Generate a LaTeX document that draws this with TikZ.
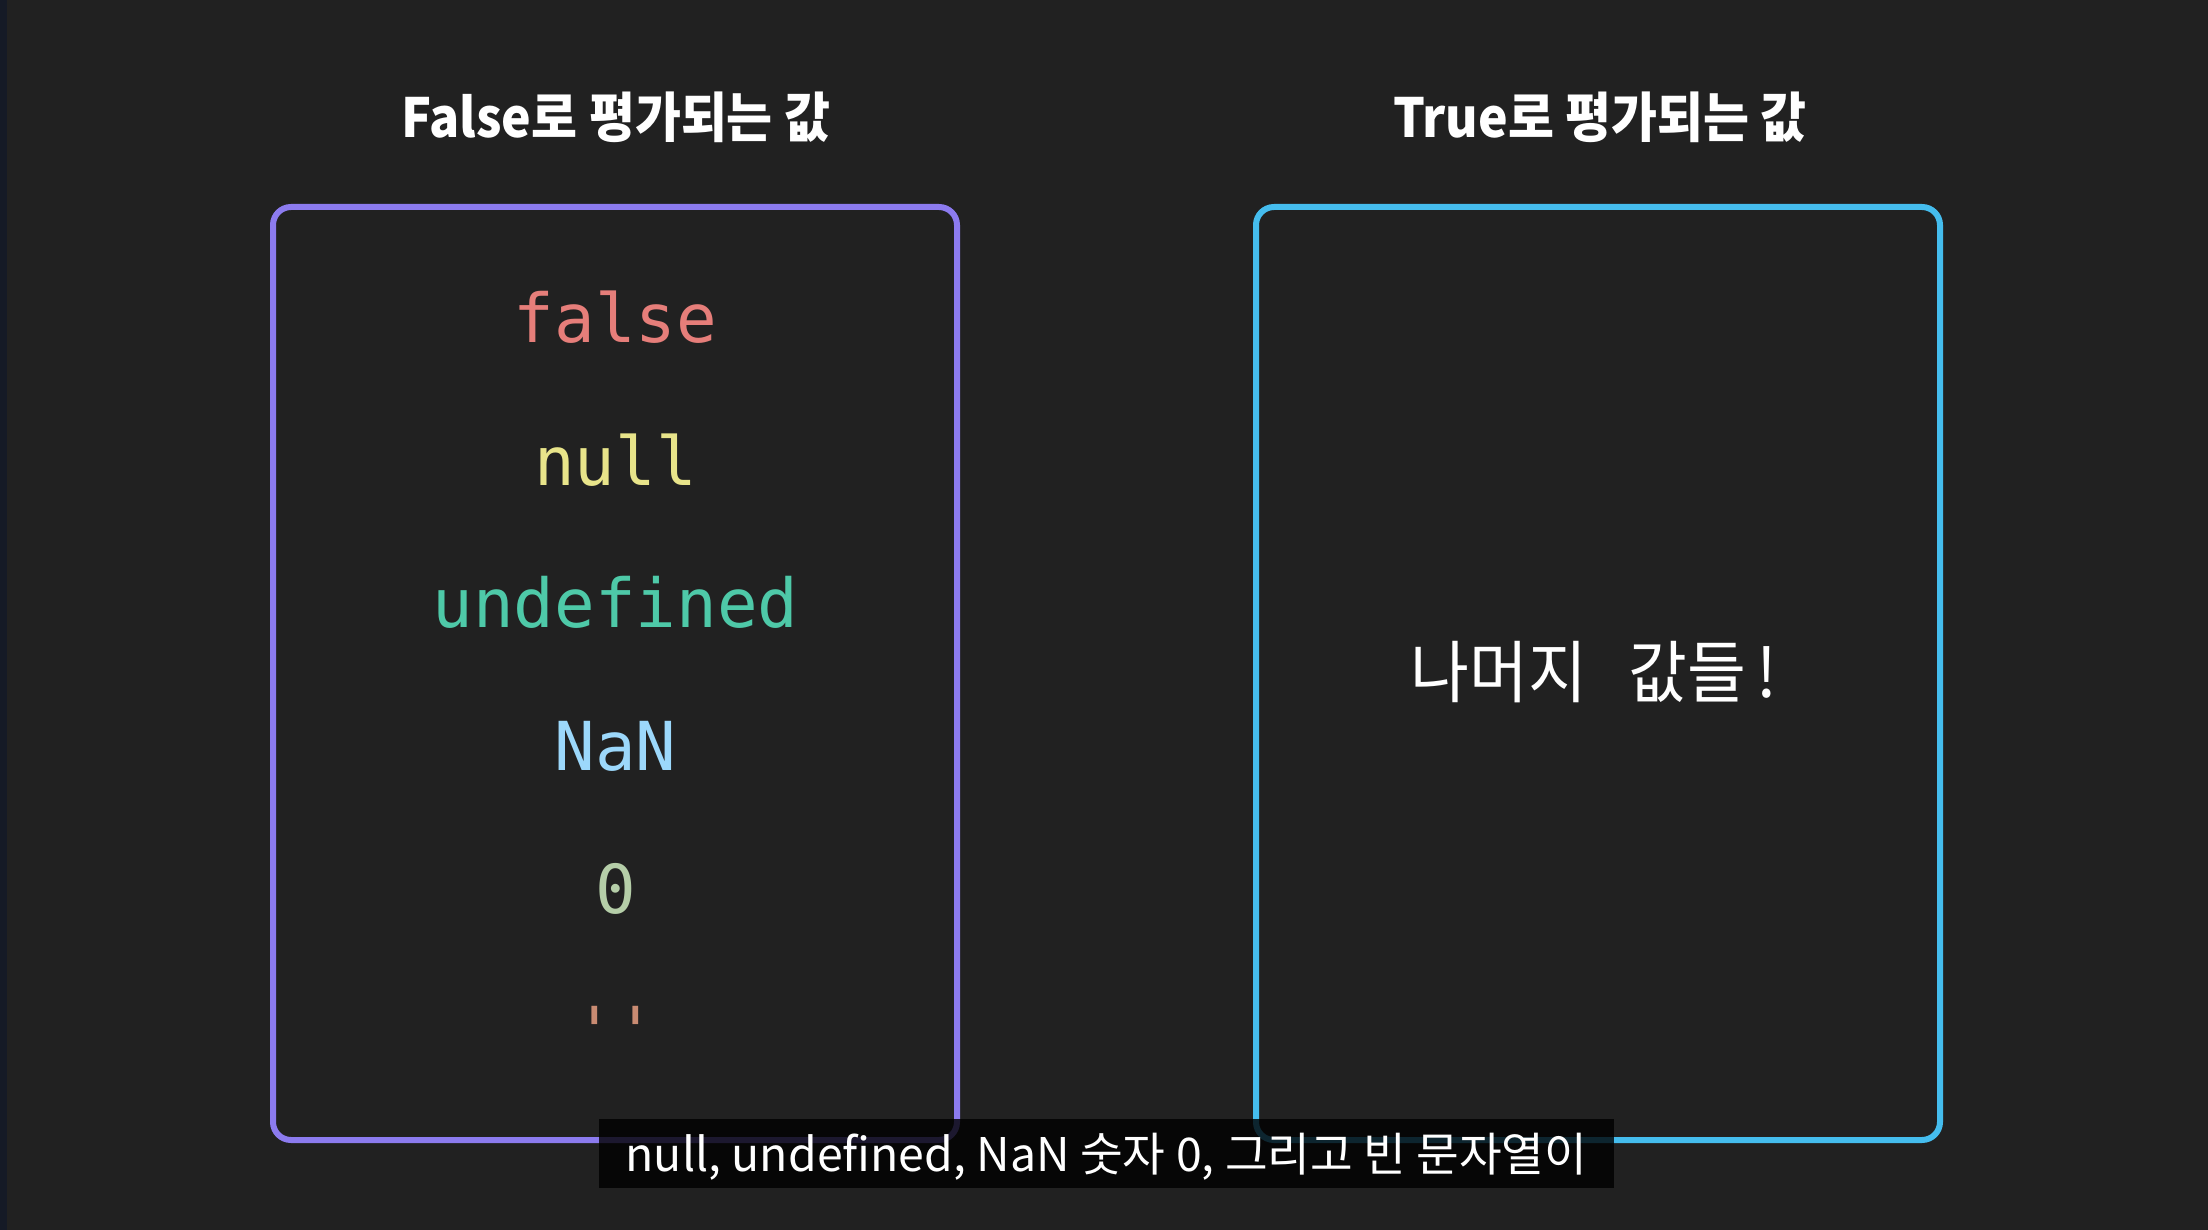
\documentclass[tikz,border=0pt]{standalone}
\usepackage{fontspec}
\setmainfont{Noto Sans CJK KR}
\newfontfamily\kr{Noto Sans CJK KR}
\newfontfamily\codefont{DejaVu Sans Mono}
\definecolor{bgc}{HTML}{212121}
\definecolor{stripc}{HTML}{151A26}
\definecolor{purp}{HTML}{8C7BEF}
\definecolor{cyanc}{HTML}{45BDEE}
\definecolor{cfalse}{HTML}{E67E7A}
\definecolor{cnull}{HTML}{E8E48A}
\definecolor{cundef}{HTML}{4EC9A8}
\definecolor{cnan}{HTML}{9CD8FB}
\definecolor{czero}{HTML}{B5CEA8}
\definecolor{cquote}{HTML}{C98B72}
\begin{document}
\begin{tikzpicture}[x=0.5pt,y=-0.5pt,
  codetxt/.style={anchor=base, inner sep=0pt, font=\codefont\fontsize{33.75pt}{40pt}\selectfont},
  titletxt/.style={anchor=base, inner sep=0pt, text=white, font=\kr\bfseries\fontsize{27pt}{30pt}\selectfont},
  panel/.style={line width=3pt, rounded corners=9pt},
  restxt/.style={anchor=base, inner sep=0pt, text=white, font=\kr\fontsize{34pt}{40pt}\selectfont},
  capbox/.style={fill=black, fill opacity=0.8, draw=none, inner sep=0pt, minimum width=507.5pt, minimum height=34.5pt},
  captxt/.style={anchor=base, inner sep=0pt, text=white, font=\kr\fontsize{23.2pt}{27pt}\selectfont}]
\fill[bgc] (0,0) rectangle (2208,1230);
\fill[stripc] (0,0) rectangle (7,1230);
\useasboundingbox (0,0) rectangle (2208,1230);
% panels
\draw[panel, purp] (273,207) rectangle (957,1140);
\draw[panel, cyanc] (1256,207) rectangle (1940,1140);
% titles
\node[titletxt] (t1) at (616,138) {\scalebox{0.925}[1]{False로 평가되는 값}};
\node[titletxt] (t2) at (1600,138) {\scalebox{0.925}[1]{True로 평가되는 값}};
% falsy values
\node[codetxt, text=cfalse] (v1) at (615.5,343) {false};
\node[codetxt, text=cnull] (v2) at (615.5,486) {null};
\node[codetxt, text=cundef] (v3) at (615.5,627) {undefined};
\node[codetxt, text=cnan] (v4) at (615.5,770) {NaN};
\node[codetxt, text=czero] (v5) at (615.5,913) {0};
\node[codetxt, text=cquote] (v6) at (615.5,1055) {\symbol{39}\symbol{39}};
% truthy
\node[restxt] (rest) at (1594,697) {\scalebox{0.94}[1]{나머지\hspace{22pt}값들\hspace{5.5pt}!}};
% caption
\node[capbox] (cap) at (1106.5,1153.5) {};
\node[captxt] (capt) at (1106.5,1171) {null, undefined, NaN 숫자 0, 그리고 빈 문자열이};
\end{tikzpicture}
\end{document}
